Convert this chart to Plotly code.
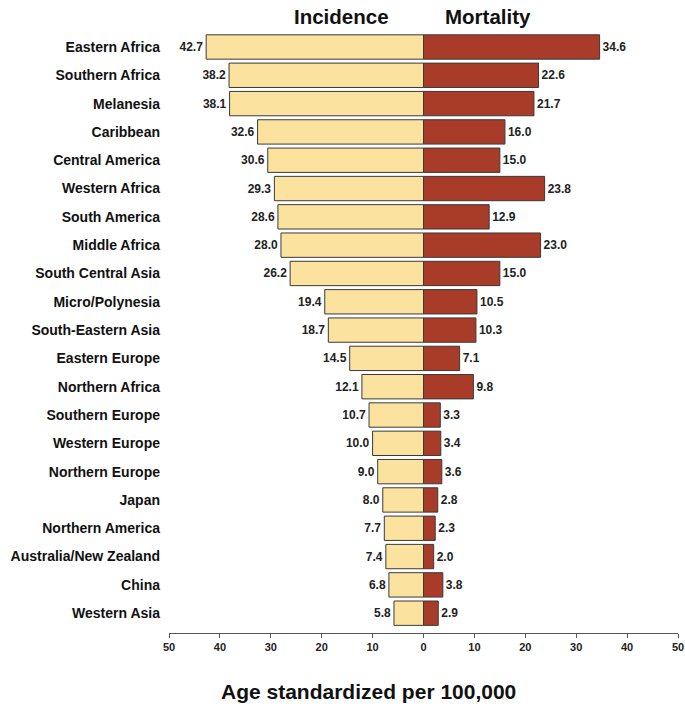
import plotly.graph_objects as go

# regions, top to bottom
regions = ["Eastern Africa", "Southern Africa", "Melanesia", "Caribbean", "Central America",
           "Western Africa", "South America", "Middle Africa", "South Central Asia",
           "Micro/Polynesia", "South-Eastern Asia", "Eastern Europe", "Northern Africa",
           "Southern Europe", "Western Europe", "Northern Europe", "Japan",
           "Northern America", "Australia/New Zealand", "China", "Western Asia"]

incidence = [42.7, 38.2, 38.1, 32.6, 30.6, 29.3, 28.6, 28.0, 26.2, 19.4, 18.7,
             14.5, 12.1, 10.7, 10.0, 9.0, 8.0, 7.7, 7.4, 6.8, 5.8]
mortality = [34.6, 22.6, 21.7, 16.0, 15.0, 23.8, 12.9, 23.0, 15.0, 10.5, 10.3,
             7.1, 9.8, 3.3, 3.4, 3.6, 2.8, 2.3, 2.0, 3.8, 2.9]

tick_vals = [-50, -40, -30, -20, -10, 0, 10, 20, 30, 40, 50]
tick_text = ["50", "40", "30", "20", "10", "0", "10", "20", "30", "40", "50"]

FONT = "Liberation Sans, Arial, sans-serif"
L, R, T, B = 169, 7, 30, 71
W, H = 685, 704

fig = go.Figure()
fig.add_trace(go.Bar(
    y=regions, x=[-v for v in incidence], orientation="h",
    marker=dict(color="#FBE29F", line=dict(color="#3a3a3a", width=1)),
    text=[f"{v:.1f}" for v in incidence], textposition="outside",
    textfont=dict(size=12, color="#222", family=FONT, weight="bold"),
    cliponaxis=False, name="Incidence",
))
fig.add_trace(go.Bar(
    y=regions, x=mortality, orientation="h",
    marker=dict(color="#A83C28", line=dict(color="#3a3a3a", width=1)),
    text=[f"{v:.1f}" for v in mortality], textposition="outside",
    textfont=dict(size=12, color="#222", family=FONT, weight="bold"),
    cliponaxis=False, name="Mortality",
))

# pixel position -> paper coords
pw, ph = W - L - R, H - T - B
def px(x, y):
    return (x - L) / pw, (H - B - y) / ph

anns = []
for txt, x, y, size in [("Incidence", 341, 16, 20.5), ("Mortality", 488, 16, 20.5),
                        ("Age standardized per 100,000", 368, 691, 21)]:
    ax, ay = px(x, y)
    anns.append(dict(text=f"<b>{txt}</b>", x=ax, y=ay, xref="paper", yref="paper",
                     xanchor="center", yanchor="middle", showarrow=False,
                     font=dict(size=size, family=FONT, color="#111")))

fig.update_layout(
    width=W, height=H,
    margin=dict(l=L, r=R, t=T, b=B),
    barmode="relative", bargap=0.14,
    showlegend=False,
    plot_bgcolor="white", paper_bgcolor="white",
    font=dict(family=FONT, color="#111"),
    xaxis=dict(range=[-50, 50], tickvals=tick_vals, ticktext=tick_text, automargin=False,
               showgrid=False, zeroline=False, showline=True, linecolor="#555",
               linewidth=1, ticks="outside", ticklen=4, tickcolor="#555",
               tickfont=dict(size=11, family=FONT, weight="bold", color="#222")),
    yaxis=dict(range=[20.7, -0.6], showgrid=False, zeroline=False, showline=False,
               ticks="", ticklabelstandoff=8, automargin=False,
               tickfont=dict(size=14, family=FONT, weight="bold", color="#111")),
    annotations=anns,
)

# drop the page's default 8px body margin so the figure sits at the window corner
fig.write_html("out.html", config={"displayModeBar": False},
               post_script="document.body.style.margin='0';document.body.style.overflow='hidden';")
